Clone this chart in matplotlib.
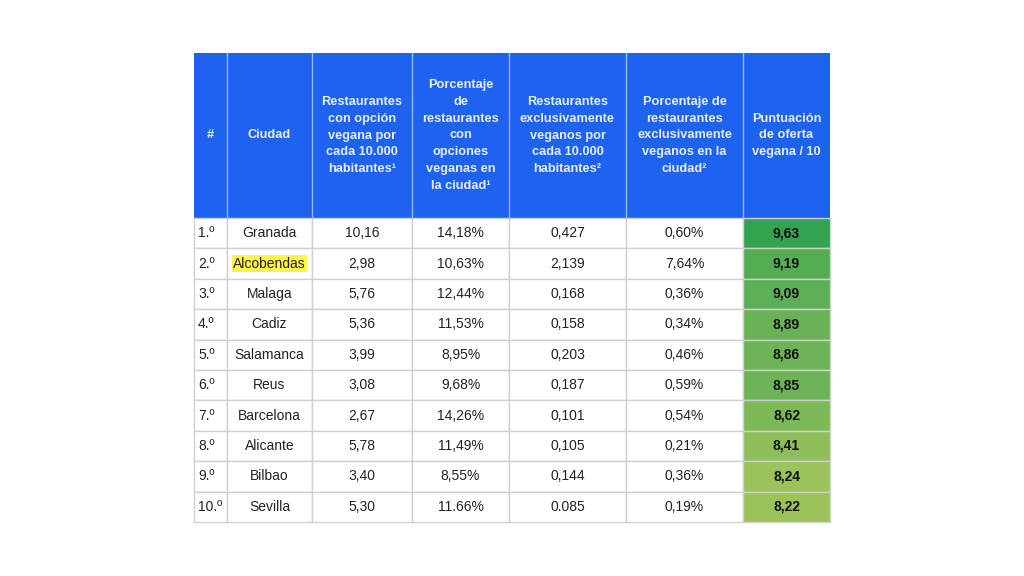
import matplotlib
matplotlib.use("Agg")
import matplotlib.pyplot as plt
from matplotlib.patches import Rectangle
import numpy as np

headers = ["#", "Ciudad", "Restaurantes\ncon opción\nvegana por\ncada 10.000\nhabitantes¹",
           "Porcentaje\nde\nrestaurantes\ncon\nopciones\nveganas en\nla ciudad¹",
           "Restaurantes\nexclusivamente\nveganos por\ncada 10.000\nhabitantes²",
           "Porcentaje de\nrestaurantes\nexclusivamente\nveganos en la\nciudad²",
           "Puntuación\nde oferta\nvegana / 10"]
ranks = ["1.º", "2.º", "3.º", "4.º", "5.º", "6.º", "7.º", "8.º", "9.º", "10.º"]
cities = ["Granada", "Alcobendas", "Malaga", "Cadiz", "Salamanca", "Reus", "Barcelona", "Alicante", "Bilbao", "Sevilla"]
rest_opc = ["10,16", "2,98", "5,76", "5,36", "3,99", "3,08", "2,67", "5,78", "3,40", "5,30"]
pct_opc = ["14,18%", "10,63%", "12,44%", "11,53%", "8,95%", "9,68%", "14,26%", "11,49%", "8,55%", "11.66%"]
rest_excl = ["0,427", "2,139", "0,168", "0,158", "0,203", "0,187", "0,101", "0,105", "0,144", "0.085"]
pct_excl = ["0,60%", "7,64%", "0,36%", "0,34%", "0,46%", "0,59%", "0,54%", "0,21%", "0,36%", "0,19%"]
scores = [9.63, 9.19, 9.09, 8.89, 8.86, 8.85, 8.62, 8.41, 8.24, 8.22]

col_edges = [194, 227, 312, 412, 509, 626, 743, 830]
head_top, head_bot, table_bot = 53, 218, 522

fig = plt.figure(figsize=(10.24, 5.76), dpi=100)
ax = fig.add_axes([0, 0, 1, 1])
ax.set_xlim(0, 1024); ax.set_ylim(576, 0); ax.axis("off")

blue = "#1e62f0"
grid = "#d0d0d0"
ax.add_patch(Rectangle((col_edges[0], head_top), col_edges[-1]-col_edges[0], head_bot-head_top,
                       facecolor=blue, edgecolor="none"))
for i, h in enumerate(headers):
    cx = (col_edges[i] + col_edges[i+1]) / 2
    ax.text(cx, (head_top+head_bot)/2, h, ha="center", va="center", color="#e6eeff",
            fontsize=9.2, fontweight="bold", family="Liberation Sans", linespacing=1.55)

rh = (table_bot - head_bot) / len(cities)
c_hi = np.array([0x33, 0xa3, 0x4f]) / 255
c_lo = np.array([0x9c, 0xc2, 0x5b]) / 255
smin, smax = min(scores), max(scores)
for r in range(len(cities)):
    y0 = head_bot + r * rh
    cy = y0 + rh / 2
    vals = [ranks[r], cities[r], rest_opc[r], pct_opc[r], rest_excl[r], pct_excl[r], f"{scores[r]:.2f}".replace(".", ",")]
    t = (scores[r] - smin) / (smax - smin)
    gcol = c_lo + (c_hi - c_lo) * t
    for i, v in enumerate(vals):
        x0, x1 = col_edges[i], col_edges[i+1]
        fc = gcol if i == 6 else "white"
        ax.add_patch(Rectangle((x0, y0), x1-x0, rh, facecolor=fc, edgecolor=grid, lw=1))
        kw = dict(ha="center", va="center", fontsize=10, family="Liberation Sans", color="#222222")
        if i == 6:
            kw.update(fontweight="bold", color="#111111")
        if i == 0:
            ax.text(x0 + 4, cy, v, **{**kw, "ha": "left"})
        elif i == 1 and cities[r] == "Alcobendas":
            ax.text((x0+x1)/2, cy, v, bbox=dict(facecolor="#fff34d", edgecolor="none", pad=1), **kw)
        else:
            ax.text((x0+x1)/2, cy, v, **kw)

for x in col_edges[1:-1]:
    ax.plot([x, x], [head_top, head_bot], color="#9db8f5", lw=1)

fig.savefig("out.png", dpi=100, facecolor="white")
